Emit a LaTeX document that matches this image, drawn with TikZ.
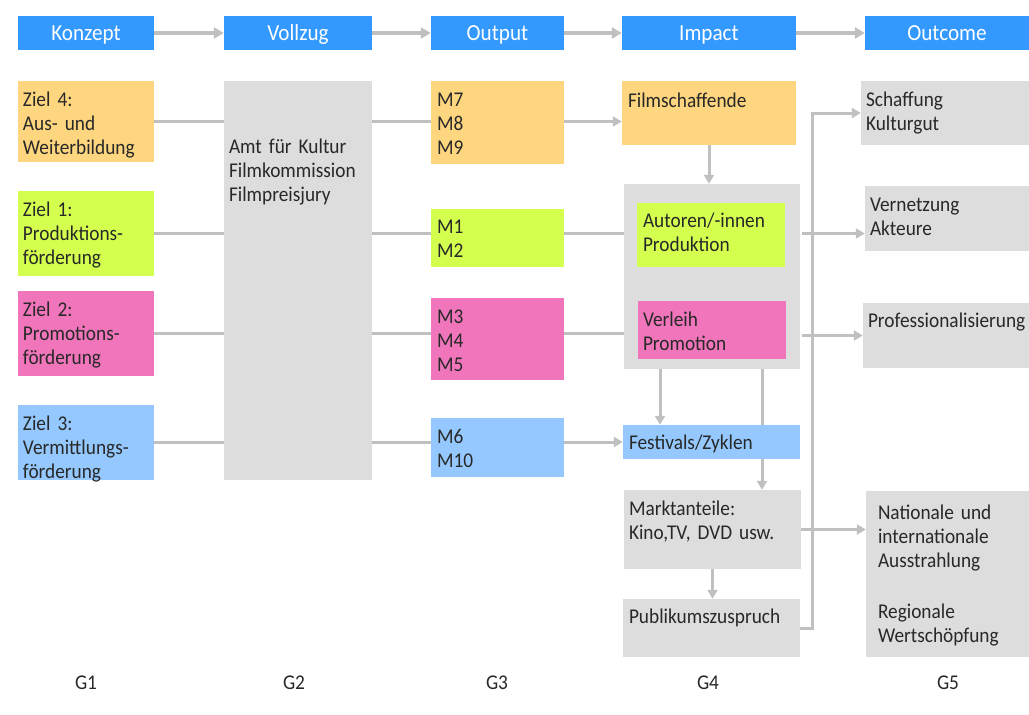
\documentclass[tikz,border=0pt]{standalone}
\usepackage{fontspec}
\setmainfont[FakeStretch=0.92]{Carlito}
\usetikzlibrary{arrows.meta,backgrounds,calc}
\definecolor{hdr}{RGB}{51,153,255}
\definecolor{cor}{RGB}{253,214,127}
\definecolor{clm}{RGB}{212,255,79}
\definecolor{cpk}{RGB}{240,117,186}
\definecolor{cbl}{RGB}{148,200,254}
\definecolor{cgy}{RGB}{221,221,221}
\definecolor{cln}{RGB}{192,192,192}
\definecolor{ctx}{RGB}{40,40,40}
\newcommand\bodyfont{\fontsize{21}{24}\selectfont\spaceskip=0.16em plus 0.05em\relax}
\tikzset{
  head/.style={fill=hdr, text=white, inner sep=0pt, minimum height=34pt, text height=15pt, text depth=0pt, font=\fontsize{23}{26}\selectfont},
  bx/.style={inner sep=0pt, draw=none},
  txt/.style={anchor=north west, inner sep=0pt, text width=200pt, align=left, text=ctx, font=\bodyfont, execute at begin node={\rule{0pt}{16pt}}},
  glab/.style={anchor=base, inner sep=0pt, text=ctx, font=\bodyfont},
  ln/.style={draw=cln, line width=3pt},
  arr/.style={draw=cln, line width=3pt, -{Triangle[length=9pt,width=10pt]}},
  harr/.style={draw=cln, line width=3.5pt, -{Triangle[length=10pt,width=11pt]}}
}
\begin{document}
\begin{tikzpicture}[x=1pt,y=-1pt]
\useasboundingbox (0,0) rectangle (1029,715);
% headers
\node[head, minimum width=136pt] (hk) at (86,33) {Konzept};
\node[head, minimum width=148pt] (hv) at (298,33) {Vollzug};
\node[head, minimum width=133pt] (ho) at (497.5,33) {Output};
\node[head, minimum width=174pt] (hi) at (709,33) {Impact};
\node[head, minimum width=164pt] (hu) at (947,33) {Outcome};
% column 1
\node[bx, fill=cor, minimum width=136pt, minimum height=81pt] (z4) at (86,121.5) {};
\node[bx, fill=clm, minimum width=136pt, minimum height=85pt] (z1) at (86,233.5) {};
\node[bx, fill=cpk, minimum width=136pt, minimum height=85pt] (z2) at (86,333.5) {};
\node[bx, fill=cbl, minimum width=136pt, minimum height=75pt] (z3) at (86,442.5) {};
\node[txt] (z4t) at ([shift={(5,9)}]z4.north west) {Ziel 4:\\Aus- und\\Weiterbildung};
\node[txt] (z1t) at ([shift={(5,9)}]z1.north west) {Ziel 1:\\Produktions-\\förderung};
\node[txt] (z2t) at ([shift={(5,9)}]z2.north west) {Ziel 2:\\Promotions-\\förderung};
\node[txt] (z3t) at ([shift={(5,9)}]z3.north west) {Ziel 3:\\Vermittlungs-\\förderung};
% column 2
\node[bx, fill=cgy, minimum width=148pt, minimum height=399pt] (vol) at (298,280.5) {};
\node[txt] (volt) at ([shift={(5,56)}]vol.north west) {Amt für Kultur\\Filmkommission\\Filmpreisjury};
% column 3
\node[bx, fill=cor, minimum width=133pt, minimum height=83pt] (m7) at (497.5,122.5) {};
\node[bx, fill=clm, minimum width=133pt, minimum height=58pt] (m1) at (497.5,238) {};
\node[bx, fill=cpk, minimum width=133pt, minimum height=82pt] (m3) at (497.5,339) {};
\node[bx, fill=cbl, minimum width=133pt, minimum height=59pt] (m6) at (497.5,447.5) {};
\node[txt] (m7t) at ([shift={(6,9)}]m7.north west) {M7\\M8\\M9};
\node[txt] (m1t) at ([shift={(6,8)}]m1.north west) {M1\\M2};
\node[txt] (m3t) at ([shift={(6,9)}]m3.north west) {M3\\M4\\M5};
\node[txt] (m6t) at ([shift={(6,9)}]m6.north west) {M6\\M10};
% column 4
\node[bx, fill=cor, minimum width=174pt, minimum height=64pt] (film) at (709,113) {};
\node[txt] (filmt) at ([shift={(6,10)}]film.north west) {Filmschaffende};
\node[bx, fill=cgy, minimum width=176pt, minimum height=185pt] (imp) at (712,276.5) {};
\node[bx, fill=clm, minimum width=148pt, minimum height=64pt] (aut) at (711,235) {};
\node[txt] (autt) at ([shift={(6,8)}]aut.north west) {Autoren/-innen\\Produktion};
\node[bx, fill=cpk, minimum width=148pt, minimum height=58pt] (ver) at (712,330) {};
\node[txt] (vert) at ([shift={(5,9)}]ver.north west) {Verleih\\Promotion};
\node[bx, fill=cbl, minimum width=177pt, minimum height=34pt] (fest) at (711.5,442) {};
\node[txt] (festt) at ([shift={(6,8)}]fest.north west) {Festivals/Zyklen};
\node[bx, fill=cgy, minimum width=177pt, minimum height=79pt] (markt) at (712.5,529.5) {};
\node[txt] (marktt) at ([shift={(5,9)}]markt.north west) {Marktanteile:\\Kino,TV, DVD usw.};
\node[bx, fill=cgy, minimum width=177pt, minimum height=58pt] (pub) at (711.5,628) {};
\node[txt] (pubt) at ([shift={(6,8)}]pub.north west) {Publikumszuspruch};
% column 5
\node[bx, fill=cgy, minimum width=168pt, minimum height=64pt] (schaff) at (945,113) {};
\node[txt] (schafft) at ([shift={(5,9)}]schaff.north west) {Schaffung\\Kulturgut};
\node[bx, fill=cgy, minimum width=164pt, minimum height=65pt] (vern) at (947,218.5) {};
\node[txt] (vernt) at ([shift={(5,9)}]vern.north west) {Vernetzung\\Akteure};
\node[bx, fill=cgy, minimum width=166pt, minimum height=65pt] (prof) at (946,335.5) {};
\node[txt] (proft) at ([shift={(5,8)}]prof.north west) {Professionalisierung};
\node[bx, fill=cgy, minimum width=163pt, minimum height=166pt] (nat) at (947.5,574) {};
\node[txt] (natt) at ([shift={(12,12)}]nat.north west) {Nationale und\\internationale\\Ausstrahlung\\[27pt]Regionale\\Wertschöpfung};
% bottom labels
\node[glab] (g1) at (86,689) {G1};
\node[glab] (g2) at (294,689) {G2};
\node[glab] (g3) at (497,689) {G3};
\node[glab] (g4) at (708,689) {G4};
\node[glab] (g5) at (948,689) {G5};
% connectors
\begin{pgfonlayer}{background}
\draw[harr] (hk.east) -- (hv.west);
\draw[harr] (hv.east) -- (ho.west);
\draw[harr] (ho.east) -- (hi.west);
\draw[harr] (hi.east) -- (hu.west);
\draw[ln] (z4.east) -- (z4.east -| vol.west);
\draw[ln] (z1.east) -- (z1.east -| vol.west);
\draw[ln] (z2.east) -- (z2.east -| vol.west);
\draw[ln] (z3.east) -- (z3.east -| vol.west);
\draw[ln] (vol.east |- z4.east) -- (m7.west |- z4.east);
\draw[ln] (vol.east |- z1.east) -- (m1.west |- z1.east);
\draw[ln] (vol.east |- z2.east) -- (m3.west |- z2.east);
\draw[ln] (vol.east |- z3.east) -- (m6.west |- z3.east);
\draw[arr] (m7.east |- z4.east) -- (film.west |- z4.east);
\draw[ln] (m1.east |- z1.east) -- (imp.west |- z1.east);
\draw[ln] (m3.east |- z2.east) -- (imp.west |- z2.east);
\draw[arr] (m6.east |- fest.west) -- (fest.west);
\draw[arr] (film.south) -- (film.south |- imp.north);
\draw[arr] ([xshift=-52pt]imp.south) -- ([xshift=-52pt]imp.south |- fest.north);
\draw[arr] ([xshift=50pt]imp.south) -- ([xshift=50pt]imp.south |- markt.north);
\draw[arr] (markt.south) -- (markt.south |- pub.north);
\draw[arr] ([xshift=2pt]imp.east |- z1.east) -- (vern.west |- z1.east);
\draw[arr] ([xshift=2pt]imp.east |- prof.west) -- (prof.west);
\draw[arr] (markt.east) -- (nat.west |- markt.east);
\draw[arr] (pub.east) -- ++(12,0) |- (schaff.west);
\end{pgfonlayer}
\end{tikzpicture}
\end{document}
